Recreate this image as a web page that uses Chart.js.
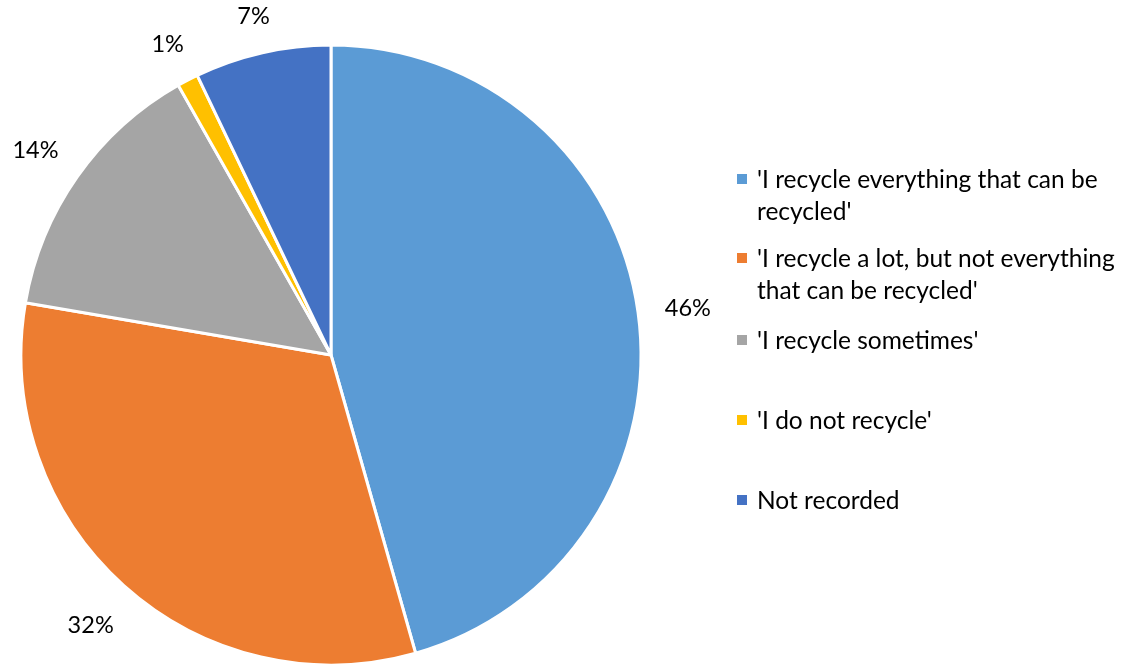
<!DOCTYPE html>
<html>
<head>
<meta charset="utf-8">
<script src="https://cdn.jsdelivr.net/npm/chart.js@4.4.0/dist/chart.umd.min.js"></script>
<style>
  html, body { margin: 0; padding: 0; background: #fff; }
  #wrap { position: relative; width: 1129px; height: 666px; overflow: hidden; }
  #c { position: absolute; left: 0; top: 0; }
  .leg { position: absolute; left: 735px; width: 392px; font-family: Lato, "Liberation Sans", sans-serif; font-size: 24.5px; line-height: 32px; color: #000; }
  .leg .sw { position: absolute; left: 2px; top: 11px; width: 10px; height: 10px; }
  .leg .tx { margin-left: 22px; }
</style>
</head>
<body>
<div id="wrap">
  <canvas id="c" width="1129" height="666"></canvas>
</div>
<script>
const categories = [
  "'I recycle everything that can be recycled'",
  "'I recycle a lot, but not everything that can be recycled'",
  "'I recycle sometimes'",
  "'I do not recycle'",
  "Not recorded"
];
const percentages = [45.6, 32.1, 14.1, 1.1, 7.1];
const colors = ["#5B9BD5", "#ED7D31", "#A5A5A5", "#FFC000", "#4472C4"];
const legendTops = [163, 242, 324, 404, 484];

const FONT = 'Lato, "Liberation Sans", sans-serif';

// HTML legend
const wrap = document.getElementById('wrap');
categories.forEach((c, i) => {
  const d = document.createElement('div');
  d.className = 'leg';
  d.style.top = legendTops[i] + 'px';
  const sw = document.createElement('span');
  sw.className = 'sw';
  sw.style.background = colors[i];
  const tx = document.createElement('div');
  tx.className = 'tx';
  tx.textContent = c;
  d.appendChild(sw); d.appendChild(tx);
  wrap.appendChild(d);
});

const outsideLabels = {
  id: 'outsideLabels',
  afterDatasetsDraw(chart) {
    const ctx = chart.ctx;
    const meta = chart.getDatasetMeta(0);
    ctx.save();
    ctx.font = '23.5px ' + FONT;
    ctx.fillStyle = '#000';
    ctx.textAlign = 'center';
    ctx.textBaseline = 'middle';
    meta.data.forEach((arc, i) => {
      const p = arc.getProps(['x', 'y', 'startAngle', 'endAngle', 'outerRadius'], true);
      const mid = (p.startAngle + p.endAngle) / 2;
      const txt = Math.round(percentages[i]) + '%';
      const w = ctx.measureText(txt).width;
      const h = 22;
      const c = Math.cos(mid), s = Math.sin(mid);
      const r = p.outerRadius + 26 + Math.abs(c) * w / 2 + Math.abs(s) * h / 2;
      ctx.fillText(txt, p.x + c * r, p.y + s * r + 3);
    });
    ctx.restore();
  }
};

new Chart(document.getElementById('c'), {
  type: 'pie',
  data: {
    labels: categories,
    datasets: [{
      data: percentages,
      backgroundColor: colors,
      borderColor: '#ffffff',
      borderWidth: 3
    }]
  },
  options: {
    responsive: false,
    animation: false,
    radius: 310,
    layout: { padding: { left: 0, right: 467, top: 44, bottom: 0 } },
    plugins: {
      legend: { display: false },
      tooltip: { enabled: false }
    }
  },
  plugins: [outsideLabels]
});
</script>
</body>
</html>
